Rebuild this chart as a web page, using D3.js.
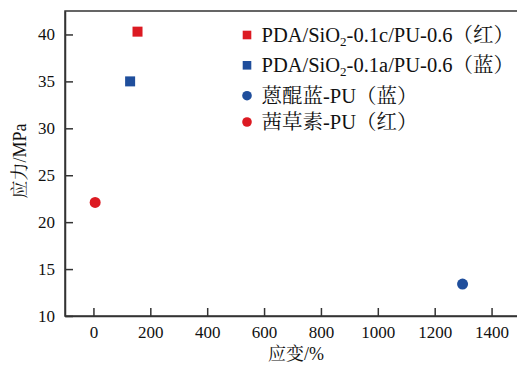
<!DOCTYPE html>
<html>
<head>
<meta charset="utf-8">
<script src="https://cdn.jsdelivr.net/npm/d3@7"></script>
<style>
  html, body { margin: 0; padding: 0; background: #fff; }
  svg { display: block; }
  text { font-family: "Liberation Serif", "Noto Serif CJK SC", "Noto Sans CJK SC", serif; fill: #111; }
</style>
</head>
<body>
<svg id="chart" width="517" height="365"></svg>
<script>
// Series: label, strain (%), stress (MPa), marker shape, colour
const seriesNames = ["PDA/SiO₂-0.1c/PU-0.6（红）", "PDA/SiO₂-0.1a/PU-0.6（蓝）", "蒽醌蓝-PU（蓝）", "茜草素-PU（红）"];
const strainValues = [155, 129, 1298, 6];
const stressValues = [40.3, 35.0, 13.4, 22.1];
const markerShapes = ["square", "square", "circle", "circle"];
const markerColors = ["#dc1a22", "#1f4e9c", "#1f4e9c", "#dc1a22"];

const xTicks = [0, 200, 400, 600, 800, 1000, 1200, 1400];
const yTicks = [10, 15, 20, 25, 30, 35, 40];
const xTitle = "应变/%";
const yTitle = "应力/MPa";

const svg = d3.select("#chart");
const margin = { left: 65, top: 11, right: -3, bottom: 49 };
const W = 517, H = 365;
const x = d3.scaleLinear().domain([-100, 1500]).range([margin.left, W - margin.right]);
const y = d3.scaleLinear().domain([10, 42.5]).range([H - margin.bottom, margin.top]);

const axisColor = "#333";

// frame
svg.append("rect")
  .attr("x", x.range()[0]).attr("y", y.range()[1])
  .attr("width", x.range()[1] - x.range()[0])
  .attr("height", y.range()[0] - y.range()[1])
  .attr("fill", "none").attr("stroke", axisColor).attr("stroke-width", 1.5);

// x axis, ticks pointing inward
const gx = svg.append("g")
  .attr("transform", `translate(0,${y.range()[0]})`)
  .call(d3.axisBottom(x).tickValues(xTicks).tickFormat(d3.format("d"))
    .tickSizeInner(-8).tickSizeOuter(0).tickPadding(10));
gx.select(".domain").attr("stroke", axisColor).attr("stroke-width", 1.5);
gx.selectAll(".tick line").attr("stroke", axisColor).attr("stroke-width", 1.5);
gx.selectAll(".tick text").attr("font-size", 17).attr("fill", "#111")
  .attr("font-family", "Liberation Serif, serif").attr("dy", "0.7em");

// y axis, ticks pointing inward
const gy = svg.append("g")
  .attr("transform", `translate(${x.range()[0]},0)`)
  .call(d3.axisLeft(y).tickValues(yTicks).tickFormat(d3.format("d"))
    .tickSizeInner(-8).tickSizeOuter(0).tickPadding(10));
gy.select(".domain").attr("stroke", axisColor).attr("stroke-width", 1.5);
gy.selectAll(".tick line").attr("stroke", axisColor).attr("stroke-width", 1.5);
gy.selectAll(".tick text").attr("font-size", 17).attr("fill", "#111")
  .attr("font-family", "Liberation Serif, serif");

// axis titles
svg.append("text")
  .attr("x", 296).attr("y", 360)
  .attr("text-anchor", "middle").attr("font-size", 18)
  .text(xTitle);
svg.append("text")
  .attr("transform", `translate(26,161) rotate(-90)`)
  .attr("text-anchor", "middle").attr("font-size", 18)
  .text(yTitle);

// data markers
const points = seriesNames.map((name, i) => ({
  name, sx: strainValues[i], sy: stressValues[i], shape: markerShapes[i], color: markerColors[i]
}));
const marker = (g, d, size) => {
  if (d.shape === "square") {
    g.append("rect")
      .attr("x", -size / 2).attr("y", -size / 2)
      .attr("width", size).attr("height", size)
      .attr("fill", d.color);
  } else {
    g.append("circle").attr("r", size / 2 + 0.5).attr("fill", d.color);
  }
};
points.forEach(d => {
  const g = svg.append("g").attr("transform", `translate(${x(d.sx)},${y(d.sy)})`);
  marker(g, d, 10);
});

// legend
const legendRows = [35, 65.3, 95.7, 122];
points.forEach((d, i) => {
  const g = svg.append("g").attr("transform", `translate(247,${legendRows[i]})`);
  marker(g, d, 8.6);
  const t = g.append("text").attr("x", 14.5).attr("y", 7).attr("font-size", 20.5);
  const name = d.name;
  const subIdx = name.indexOf("₂");
  if (subIdx >= 0) {
    t.append("tspan").text(name.slice(0, subIdx));
    t.append("tspan").attr("font-size", 13).attr("dy", 4).text("2");
    t.append("tspan").attr("dy", -4).text(name.slice(subIdx + 1));
  } else {
    t.text(name);
  }
});
</script>
</body>
</html>
